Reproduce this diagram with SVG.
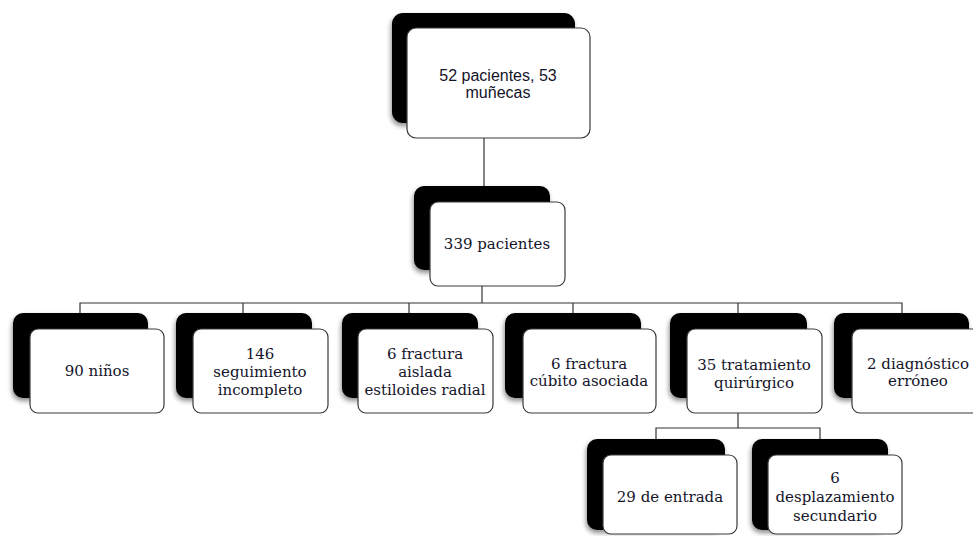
<svg xmlns="http://www.w3.org/2000/svg" width="973" height="536" viewBox="0 0 973 536">
<defs>
<filter id="soft" x="-10%" y="-10%" width="120%" height="125%">
<feGaussianBlur in="SourceAlpha" stdDeviation="2.5" result="b"/>
<feOffset dx="-1" dy="3" in="b" result="o"/>
<feComponentTransfer in="o" result="s"><feFuncA type="linear" slope="0.45"/></feComponentTransfer>
<feMerge><feMergeNode in="s"/><feMergeNode in="SourceGraphic"/></feMerge>
</filter>
</defs>
<style>
.back{fill:#000;filter:url(#soft);}
.front{fill:#fff;stroke:#3a3a3a;stroke-width:1.2;}
.t{font-family:"DejaVu Serif","Liberation Serif",serif;font-size:15px;fill:#14142a;text-anchor:middle;dominant-baseline:central;}
.ts{font-family:"Liberation Sans",Arial,sans-serif;font-size:16px;fill:#14142a;text-anchor:middle;dominant-baseline:central;}
.c{stroke:#333;stroke-width:1.2;fill:none;}
</style>
<rect width="973" height="536" fill="#fff"/>
<g id="connectors">
<line class="c" x1="484" y1="138" x2="484" y2="186"/>
<line class="c" x1="482" y1="286" x2="482" y2="303"/>
<polyline class="c" points="80,313 80,303 902,303 902,313"/>
<line class="c" x1="243" y1="303" x2="243" y2="313"/>
<line class="c" x1="409" y1="303" x2="409" y2="313"/>
<line class="c" x1="573" y1="303" x2="573" y2="313"/>
<line class="c" x1="738" y1="303" x2="738" y2="313"/>
<line class="c" x1="738" y1="413" x2="738" y2="428"/>
<polyline class="c" points="656,439 656,428 820,428 820,439"/>
</g>
<g id="n_top">
<rect class="back" x="392" y="13" width="183" height="110" rx="11"/>
<rect class="front" x="407" y="28" width="183" height="110" rx="9"/>
<text class="ts" x="498" y="75">52 pacientes, 53</text>
<text class="ts" x="498" y="92">muñecas</text>
</g>
<g id="n_339">
<rect class="back" x="414" y="186" width="136" height="84" rx="10"/>
<rect class="front" x="430" y="202" width="135" height="84" rx="8"/>
<text class="t" x="497" y="244">339 pacientes</text>
</g>
<g id="n_90">
<rect class="back" x="13" y="313" width="135" height="85" rx="10"/>
<rect class="front" x="30" y="329" width="134" height="84" rx="8"/>
<text class="t" x="97" y="371">90 niños</text>
</g>
<g id="n_146">
<rect class="back" x="176" y="313" width="136" height="85" rx="10"/>
<rect class="front" x="193" y="329" width="135" height="84" rx="8"/>
<text class="t" x="260" y="354">146</text>
<text class="t" x="260" y="372">seguimiento</text>
<text class="t" x="260" y="390">incompleto</text>
</g>
<g id="n_estiloides">
<rect class="back" x="342" y="313" width="136" height="85" rx="10"/>
<rect class="front" x="358" y="329" width="135" height="84" rx="8"/>
<text class="t" x="425" y="354">6 fractura</text>
<text class="t" x="425" y="372">aislada</text>
<text class="t" x="425" y="390">estiloides radial</text>
</g>
<g id="n_cubito">
<rect class="back" x="505" y="313" width="136" height="85" rx="10"/>
<rect class="front" x="523" y="329" width="133" height="84" rx="8"/>
<text class="t" x="589" y="364">6 fractura</text>
<text class="t" x="589" y="381">cúbito asociada</text>
</g>
<g id="n_quirurgico">
<rect class="back" x="670" y="313" width="137" height="85" rx="10"/>
<rect class="front" x="687" y="329" width="135" height="84" rx="8"/>
<text class="t" x="754" y="365">35 tratamiento</text>
<text class="t" x="754" y="383">quirúrgico</text>
</g>
<g id="n_diagnostico">
<rect class="back" x="834" y="313" width="135" height="85" rx="10"/>
<rect class="front" x="852" y="329" width="135" height="84" rx="8"/>
<text class="t" x="918" y="364">2 diagnóstico</text>
<text class="t" x="918" y="381">erróneo</text>
</g>
<g id="n_entrada">
<rect class="back" x="587" y="439" width="138" height="91" rx="10"/>
<rect class="front" x="603" y="455" width="134" height="79" rx="8"/>
<text class="t" x="670" y="497">29 de entrada</text>
</g>
<g id="n_desplazamiento">
<rect class="back" x="752" y="439" width="136" height="91" rx="10"/>
<rect class="front" x="768" y="455" width="134" height="79" rx="8"/>
<text class="t" x="835" y="478">6</text>
<text class="t" x="835" y="497">desplazamiento</text>
<text class="t" x="835" y="516">secundario</text>
</g>
</svg>
